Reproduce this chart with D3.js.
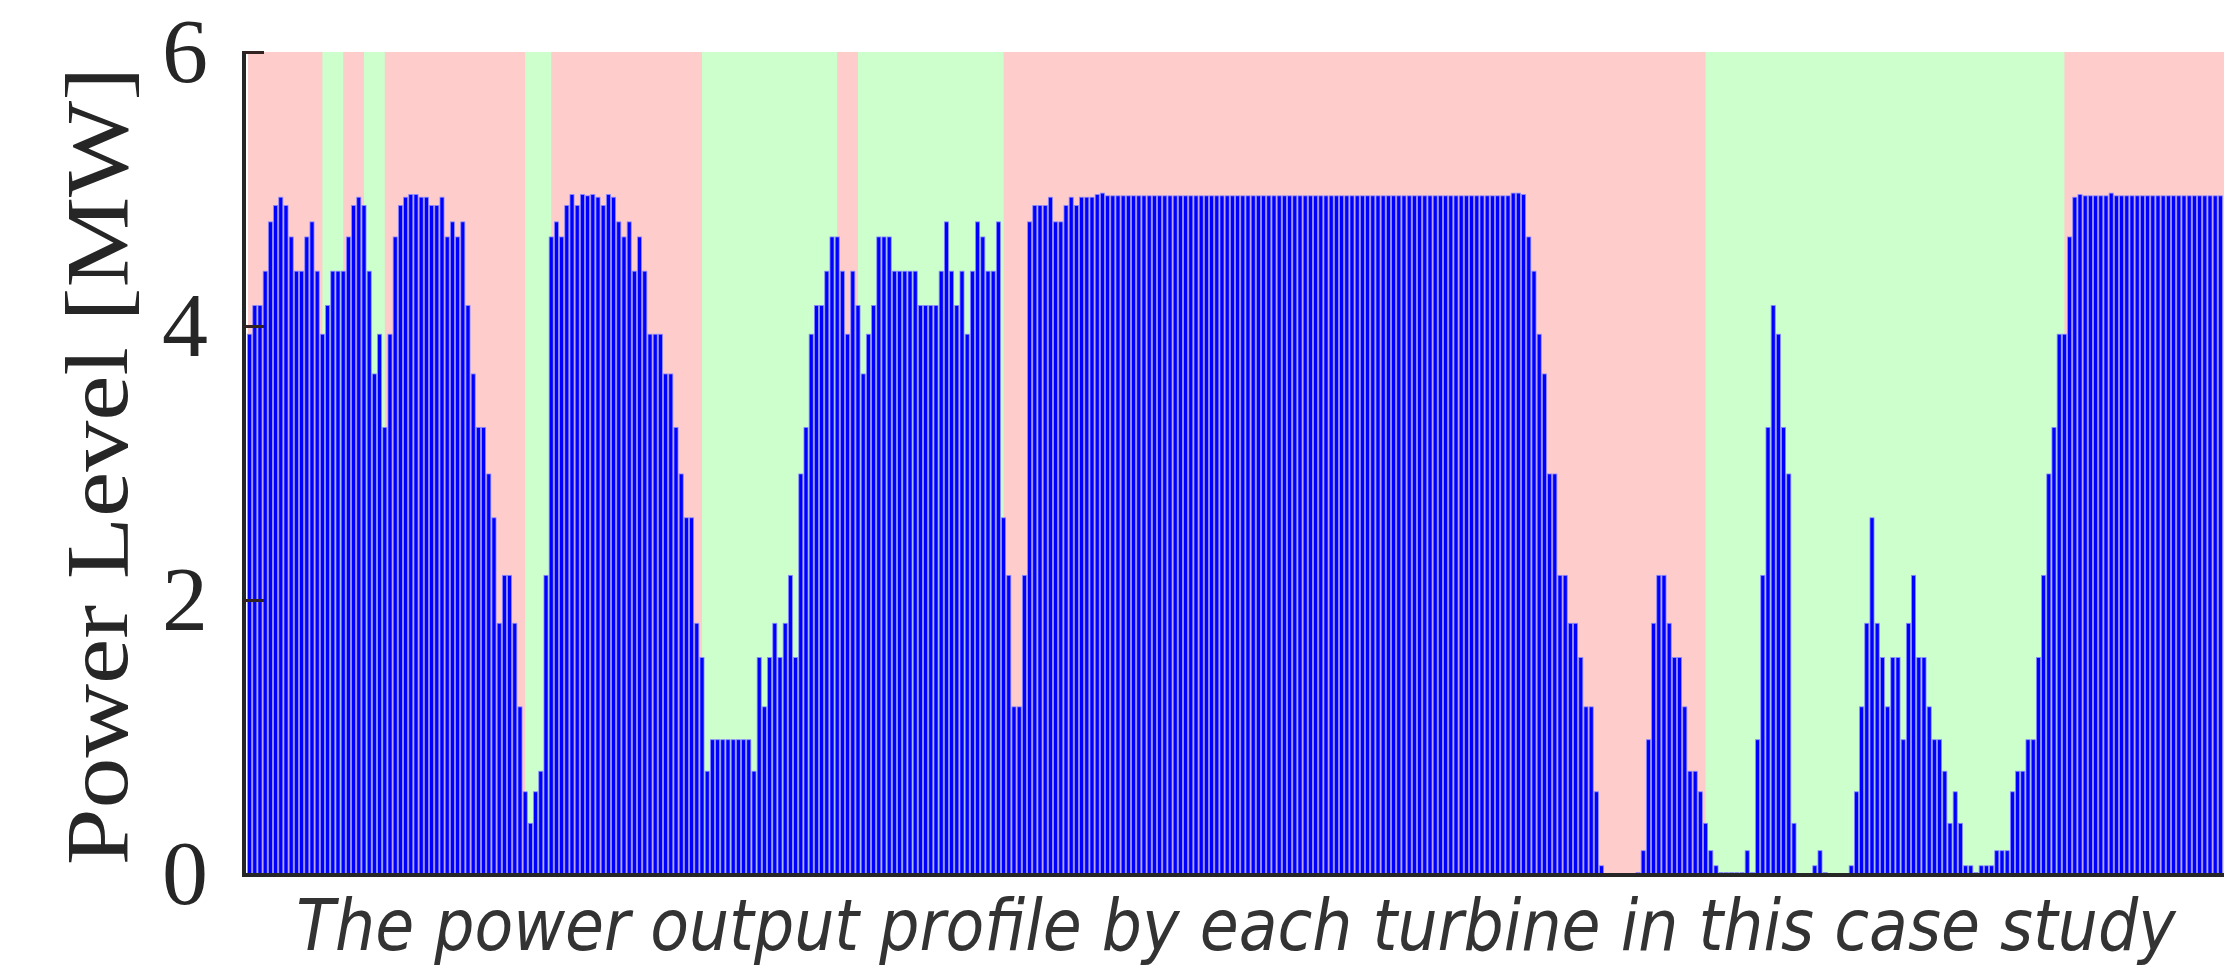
<!DOCTYPE html>
<html>
<head>
<meta charset="utf-8">
<script src="https://cdn.jsdelivr.net/npm/d3@7"></script>
<style>
  html, body { margin: 0; padding: 0; background: #ffffff; }
  svg { display: block; }
</style>
</head>
<body>
<svg id="chart" width="2224" height="970"></svg>
<script>
// ---- data (power level per turbine, MW) ----
const powerValues = [
  3.94, 4.15, 4.15, 4.40, 4.76, 4.88, 4.94, 4.88, 4.65, 4.40,
  4.40, 4.65, 4.76, 4.40, 3.94, 4.15, 4.40, 4.40, 4.40, 4.65,
  4.88, 4.94, 4.88, 4.40, 3.65, 3.94, 3.26, 3.94, 4.65, 4.88,
  4.94, 4.96, 4.96, 4.94, 4.94, 4.88, 4.88, 4.94, 4.65, 4.76,
  4.65, 4.76, 4.15, 3.65, 3.26, 3.26, 2.92, 2.60, 1.83, 2.18,
  2.18, 1.83, 1.22, 0.60, 0.37, 0.60, 0.75, 2.18, 4.65, 4.76,
  4.65, 4.88, 4.96, 4.88, 4.96, 4.95, 4.96, 4.94, 4.88, 4.96,
  4.94, 4.76, 4.65, 4.76, 4.40, 4.65, 4.40, 3.94, 3.94, 3.94,
  3.65, 3.65, 3.26, 2.92, 2.60, 2.60, 1.83, 1.58, 0.75, 0.98,
  0.98, 0.98, 0.98, 0.98, 0.98, 0.98, 0.98, 0.75, 1.58, 1.22,
  1.58, 1.83, 1.58, 1.83, 2.18, 1.58, 2.92, 3.26, 3.94, 4.15,
  4.15, 4.40, 4.65, 4.65, 4.40, 3.94, 4.40, 4.15, 3.65, 3.94,
  4.15, 4.65, 4.65, 4.65, 4.40, 4.40, 4.40, 4.40, 4.40, 4.15,
  4.15, 4.15, 4.15, 4.40, 4.76, 4.40, 4.15, 4.40, 3.94, 4.40,
  4.76, 4.65, 4.40, 4.40, 4.76, 2.60, 2.18, 1.22, 1.22, 2.18,
  4.76, 4.88, 4.88, 4.88, 4.94, 4.76, 4.76, 4.88, 4.94, 4.88,
  4.94, 4.94, 4.94, 4.96, 4.97, 4.95, 4.95, 4.95, 4.95, 4.95,
  4.95, 4.95, 4.95, 4.95, 4.95, 4.95, 4.95, 4.95, 4.95, 4.95,
  4.95, 4.95, 4.95, 4.95, 4.95, 4.95, 4.95, 4.95, 4.95, 4.95,
  4.95, 4.95, 4.95, 4.95, 4.95, 4.95, 4.95, 4.95, 4.95, 4.95,
  4.95, 4.95, 4.95, 4.95, 4.95, 4.95, 4.95, 4.95, 4.95, 4.95,
  4.95, 4.95, 4.95, 4.95, 4.95, 4.95, 4.95, 4.95, 4.95, 4.95,
  4.95, 4.95, 4.95, 4.95, 4.95, 4.95, 4.95, 4.95, 4.95, 4.95,
  4.95, 4.95, 4.95, 4.95, 4.95, 4.95, 4.95, 4.95, 4.95, 4.95,
  4.95, 4.95, 4.95, 4.97, 4.97, 4.96, 4.65, 4.40, 3.94, 3.65,
  2.92, 2.92, 2.18, 2.18, 1.83, 1.83, 1.58, 1.22, 1.22, 0.60,
  0.06, 0.00, 0.00, 0.00, 0.00, 0.00, 0.00, 0.01, 0.17, 0.98,
  1.83, 2.18, 2.18, 1.83, 1.58, 1.58, 1.22, 0.75, 0.75, 0.60,
  0.37, 0.17, 0.06, 0.01, 0.01, 0.01, 0.01, 0.01, 0.17, 0.01,
  0.98, 2.18, 3.26, 4.15, 3.94, 3.26, 2.92, 0.37, 0.00, 0.00,
  0.00, 0.06, 0.17, 0.01, 0.00, 0.00, 0.00, 0.00, 0.06, 0.60,
  1.22, 1.83, 2.60, 1.83, 1.58, 1.22, 1.58, 1.58, 0.98, 1.83,
  2.18, 1.58, 1.58, 1.22, 0.98, 0.98, 0.75, 0.37, 0.60, 0.37,
  0.06, 0.06, 0.01, 0.06, 0.06, 0.06, 0.17, 0.17, 0.17, 0.60,
  0.75, 0.75, 0.98, 0.98, 1.58, 2.18, 2.92, 3.26, 3.94, 3.94,
  4.65, 4.94, 4.96, 4.95, 4.95, 4.95, 4.95, 4.95, 4.97, 4.95,
  4.95, 4.95, 4.95, 4.95, 4.95, 4.95, 4.95, 4.95, 4.95, 4.95,
  4.95, 4.95, 4.95, 4.95, 4.95, 4.95, 4.95, 4.95, 4.95, 4.95
];
// green background zones (turbine index, from / to)
const greenStart = [14, 22, 53, 87, 117, 280];
const greenEnd   = [18, 26, 58, 113, 145, 349];
const yTicks = [0, 2, 4, 6];
const yLabel = "Power Level [MW]";
const xLabel = "The power output profile by each turbine in this case study";

// ---- layout ----
const svg = d3.select("#chart");
const N = powerValues.length;
const plotTop = 52, plotBottom = 874, plotLeft = 247, plotRight = 2223;

const x = d3.scaleLinear().domain([-0.5, N - 0.5]).range([plotLeft, plotRight]);
const y = d3.scaleLinear().domain([0, 6]).range([plotBottom, plotTop]);
const step = x(1) - x(0);

// backgrounds
svg.append("rect")
  .attr("x", x(-0.5) + 1).attr("y", y(6))
  .attr("width", 2224 - x(-0.5)).attr("height", y(0) - y(6))
  .attr("fill", "#ffcccc");

svg.append("g").selectAll("rect")
  .data(greenStart.map((s, i) => [s, greenEnd[i]]))
  .join("rect")
  .attr("x", d => x(d[0]))
  .attr("width", d => x(d[1]) - x(d[0]))
  .attr("y", y(6))
  .attr("height", y(0) - y(6))
  .attr("fill", "#ccffcc");

// bars
const bw = step * 0.78;
svg.append("g").selectAll("rect")
  .data(powerValues)
  .join("rect")
  .attr("x", (d, i) => x(i) - bw / 2)
  .attr("width", bw)
  .attr("y", d => y(d))
  .attr("height", d => y(0) - y(d))
  .attr("fill", "#0000ff")
  .attr("stroke", "#8c8cff")
  .attr("stroke-width", 0.8);

// y axis
const yAxis = d3.axisLeft(y)
  .tickValues(yTicks)
  .tickFormat(d3.format("d"))
  .tickSizeInner(-20)
  .tickSizeOuter(0)
  .tickPadding(36);

const gy = svg.append("g")
  .attr("transform", "translate(244,0)")
  .call(yAxis);
gy.select(".domain")
  .attr("stroke", "#262626")
  .attr("stroke-width", 4)
  .attr("d", `M0,${plotTop - 1}V${plotBottom + 2}`);
gy.selectAll(".tick line")
  .attr("stroke", "#332222")
  .attr("stroke-width", 3);
gy.selectAll(".tick text")
  .attr("fill", "#262626")
  .style("font-family", "'Liberation Serif', 'Times New Roman', serif")
  .style("font-size", "92px");

// bottom axis line
svg.append("line")
  .attr("x1", 242).attr("x2", 2224)
  .attr("y1", plotBottom + 1).attr("y2", plotBottom + 1)
  .attr("stroke", "#262626")
  .attr("stroke-width", 4);

// y label
svg.append("text")
  .attr("transform", "translate(127,466) rotate(-90) scale(1,0.88)")
  .attr("text-anchor", "middle")
  .attr("fill", "#262626")
  .style("font-family", "'Liberation Serif', 'Times New Roman', serif")
  .style("font-size", "102px")
  .text(yLabel);

// x label
svg.append("text")
  .attr("transform", "translate(1236,950) scale(0.88,1)")
  .attr("text-anchor", "middle")
  .attr("fill", "#333333")
  .style("font-family", "'DejaVu Sans', sans-serif")
  .style("font-style", "italic")
  .style("font-size", "72px")
  .text(xLabel);
</script>
</body>
</html>
